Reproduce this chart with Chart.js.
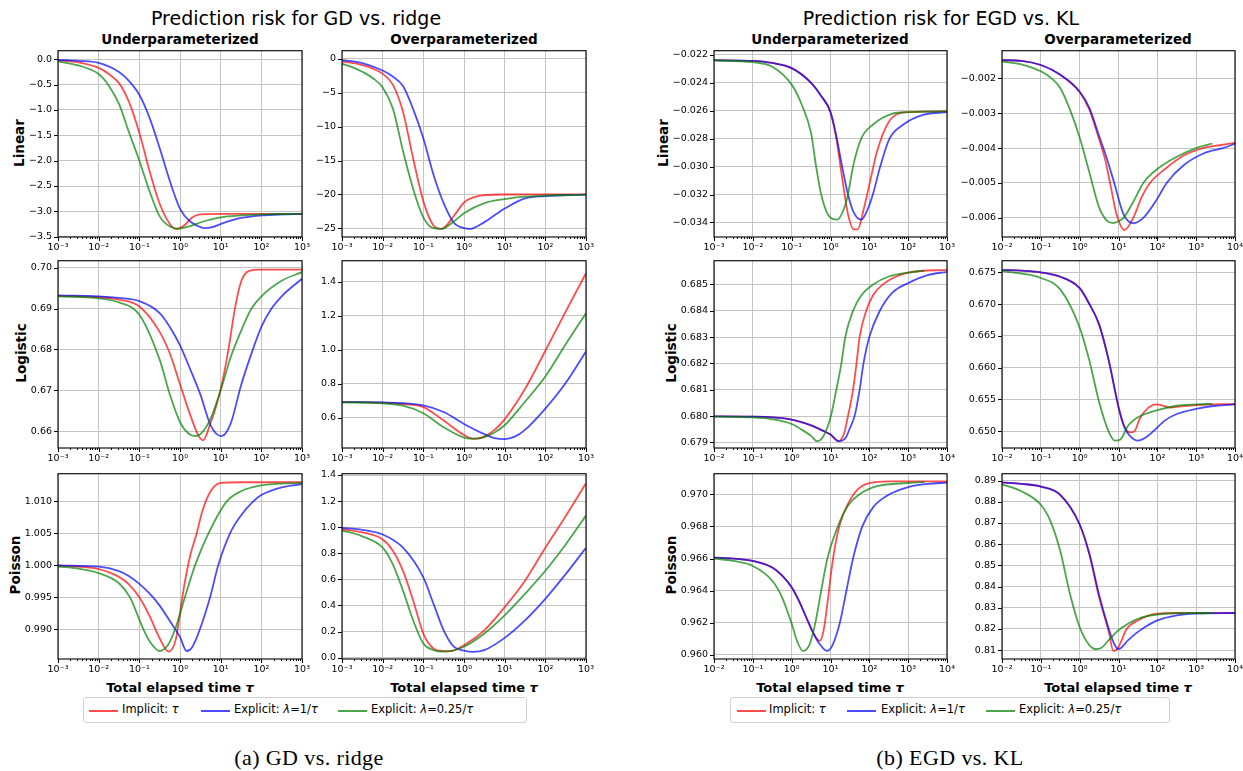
<!DOCTYPE html>
<html>
<head>
<meta charset="utf-8">
<script src="https://cdn.jsdelivr.net/npm/chart.js@4.4.1/dist/chart.umd.min.js"></script>
<style>
  body { margin: 0; width: 1243px; height: 771px; background: #fff; position: relative; overflow: hidden;
         font-family: "DejaVu Sans", sans-serif; color: #000; }
  canvas { position: absolute; }
  .t { position: absolute; white-space: nowrap; transform: translate(-50%, -50%); }
  .main { font-size: 19px; }
  .sub { font-size: 13.5px; font-weight: bold; }
  .row { font-size: 13.5px; font-weight: bold; transform: translate(-50%, -50%) rotate(-90deg); }
  .xt { font-size: 13px; font-weight: bold; }
  .cap { font-family: "Liberation Serif", serif; font-size: 22px; letter-spacing: 0.4px; }
  .legend { position: absolute; height: 26px; border: 1px solid #d0d0d0; border-radius: 3px; box-sizing: border-box; }
  .legend span.l { position: absolute; top: 12px; height: 2px; width: 29px; }
  .legend span.x { position: absolute; top: 4px; font-size: 11.5px; white-space: nowrap; }
</style>
</head>
<body>

<div class="t main" style="left:296px;top:18px">Prediction risk for GD vs. ridge</div>
<div class="t main" style="left:941px;top:18px">Prediction risk for EGD vs. KL</div>

<div class="t sub" style="left:180px;top:39px">Underparameterized</div>
<div class="t sub" style="left:464px;top:39px">Overparameterized</div>
<div class="t sub" style="left:830px;top:39px">Underparameterized</div>
<div class="t sub" style="left:1118px;top:39px">Overparameterized</div>

<div class="t row" style="left:19px;top:143px">Linear</div>
<div class="t row" style="left:21px;top:353px">Logistic</div>
<div class="t row" style="left:15px;top:565px">Poisson</div>
<div class="t row" style="left:663px;top:143px">Linear</div>
<div class="t row" style="left:671px;top:353px">Logistic</div>
<div class="t row" style="left:671px;top:565px">Poisson</div>

<div class="t xt" style="left:180px;top:687px">Total elapsed time <i>τ</i></div>
<div class="t xt" style="left:464px;top:687px">Total elapsed time <i>τ</i></div>
<div class="t xt" style="left:830px;top:687px">Total elapsed time <i>τ</i></div>
<div class="t xt" style="left:1118px;top:687px">Total elapsed time <i>τ</i></div>

<div class="legend" style="left:83px;top:697px;width:444px">
  <span class="l" style="left:5px;background:rgba(255,0,0,0.7)"></span>
  <span class="x" style="left:38px">Implicit: <i>τ</i></span>
  <span class="l" style="left:117px;background:rgba(0,0,255,0.7)"></span>
  <span class="x" style="left:150px">Explicit: <i>λ</i>=1/<i>τ</i></span>
  <span class="l" style="left:254px;background:rgba(0,128,0,0.7)"></span>
  <span class="x" style="left:287px">Explicit: <i>λ</i>=0.25/<i>τ</i></span>
</div>
<div class="legend" style="left:730px;top:697px;width:440px">
  <span class="l" style="left:6px;background:rgba(255,0,0,0.7)"></span>
  <span class="x" style="left:38px">Implicit: <i>τ</i></span>
  <span class="l" style="left:116px;background:rgba(0,0,255,0.7)"></span>
  <span class="x" style="left:150px">Explicit: <i>λ</i>=1/<i>τ</i></span>
  <span class="l" style="left:255px;background:rgba(0,128,0,0.7)"></span>
  <span class="x" style="left:288px">Explicit: <i>λ</i>=0.25/<i>τ</i></span>
</div>

<div class="t cap" style="left:309px;top:758px">(a) GD vs. ridge</div>
<div class="t cap" style="left:950px;top:758px">(b) EGD vs. KL</div>

<script>
// x axes: decades of τ (log10) shown as tick labels
const gdDecades = [-3, -2, -1, 0, 1, 2, 3];
const egdDecades = [-2, -1, 0, 1, 2, 3, 4];

// Every series below is [log10 τ, risk]

// GD vs ridge — Linear, underparameterized
const gdLinUnderImplicit = [[-3,-0.02],[-2.5,-0.06],[-2,-0.17],[-1.75,-0.29],[-1.5,-0.47],[-1.25,-0.85],[-1,-1.45],[-0.75,-2.2],[-0.5,-2.85],[-0.25,-3.25],[-0.1,-3.35],[0.1,-3.28],[0.3,-3.12],[0.5,-3.06],[1,-3.05],[2,-3.05],[3,-3.05]];
const gdLinUnderExplicit = [[-3,-0.01],[-2.5,-0.03],[-2,-0.07],[-1.5,-0.25],[-1.25,-0.43],[-1,-0.7],[-0.75,-1.15],[-0.5,-1.75],[-0.25,-2.4],[0,-2.95],[0.25,-3.2],[0.5,-3.31],[0.6,-3.33],[0.8,-3.31],[1,-3.25],[1.5,-3.13],[2,-3.08],[2.5,-3.06],[3,-3.05]];
const gdLinUnderQuarter = [[-3,-0.04],[-2.5,-0.12],[-2,-0.29],[-1.75,-0.52],[-1.5,-0.88],[-1.25,-1.45],[-1,-2.0],[-0.75,-2.6],[-0.5,-3.1],[-0.25,-3.3],[-0.05,-3.34],[0.25,-3.29],[0.5,-3.22],[1,-3.12],[1.5,-3.08],[2,-3.06],[3,-3.05]];
const gdLinUnderTicks = [-3.5, -3, -2.5, -2, -1.5, -1, -0.5, 0];

// GD vs ridge — Linear, overparameterized
const gdLinOverImplicit = [[-3,-0.35],[-2.5,-0.9],[-2.25,-1.4],[-2,-2.2],[-1.75,-3.8],[-1.5,-7.8],[-1.25,-14.7],[-1,-21],[-0.75,-24.6],[-0.55,-25.1],[-0.25,-23.2],[0,-21.2],[0.25,-20.4],[0.5,-20.1],[1,-20.02],[3,-20.0]];
const gdLinOverExplicit = [[-3,-0.15],[-2.5,-0.6],[-2,-1.7],[-1.75,-2.6],[-1.5,-4.0],[-1.25,-7.4],[-1,-11.7],[-0.75,-17.1],[-0.5,-21.3],[-0.25,-24.2],[0,-25.0],[0.15,-25.1],[0.5,-24.1],[0.75,-23.1],[1,-22.1],[1.5,-20.6],[2,-20.25],[2.5,-20.1],[3,-20.05]];
const gdLinOverQuarter = [[-3,-0.7],[-2.75,-1.2],[-2.5,-1.9],[-2.25,-2.8],[-2,-4.2],[-1.75,-7.3],[-1.5,-13.6],[-1.25,-19.2],[-1,-23.4],[-0.75,-25.0],[-0.55,-25.1],[-0.25,-24.0],[0,-22.8],[0.5,-21.3],[1,-20.7],[1.5,-20.35],[2,-20.2],[3,-20.05]];
const gdLinOverTicks = [-25, -20, -15, -10, -5, 0];

// GD vs ridge — Logistic, underparameterized
const gdLogUnderImplicit = [[-3,0.6931],[-2,0.6928],[-1.5,0.6922],[-1,0.6905],[-0.5,0.6843],[-0.25,0.6790],[0,0.6715],[0.25,0.6640],[0.45,0.6590],[0.57,0.6578],[0.75,0.6620],[0.9,0.6665],[1.05,0.6725],[1.2,0.6805],[1.35,0.6900],[1.5,0.6965],[1.7,0.6992],[2,0.6995],[3,0.6995]];
const gdLogUnderExplicit = [[-3,0.6932],[-2,0.6930],[-1.5,0.6926],[-1,0.6918],[-0.5,0.6889],[-0.25,0.6855],[0,0.6810],[0.25,0.6752],[0.5,0.6690],[0.75,0.6615],[1.02,0.6588],[1.25,0.6620],[1.5,0.6712],[1.75,0.6788],[2,0.6855],[2.25,0.6900],[2.5,0.6930],[3,0.6973]];
const gdLogUnderQuarter = [[-3,0.6930],[-2,0.6925],[-1.5,0.6915],[-1,0.6885],[-0.5,0.6775],[-0.25,0.6690],[0,0.6622],[0.2,0.6595],[0.37,0.6588],[0.55,0.6598],[0.75,0.6630],[1,0.6700],[1.25,0.6782],[1.5,0.6845],[1.75,0.6899],[2,0.6930],[2.5,0.6968],[3,0.6989]];
const gdLogUnderTicks = [0.66, 0.67, 0.68, 0.69, 0.70];

// GD vs ridge — Logistic, overparameterized
const gdLogOverImplicit = [[-3,0.693],[-2,0.690],[-1.5,0.682],[-1,0.664],[-0.5,0.585],[0,0.500],[0.25,0.477],[0.5,0.490],[0.75,0.530],[1,0.592],[1.5,0.770],[2,0.995],[2.5,1.225],[3,1.45]];
const gdLogOverExplicit = [[-3,0.693],[-2,0.691],[-1.5,0.687],[-1,0.674],[-0.5,0.635],[0,0.565],[0.5,0.505],[0.75,0.482],[1,0.476],[1.25,0.490],[1.5,0.530],[2,0.655],[2.5,0.805],[3,0.99]];
const gdLogOverQuarter = [[-3,0.692],[-2,0.686],[-1.5,0.672],[-1,0.628],[-0.5,0.545],[0,0.485],[0.25,0.478],[0.5,0.488],[0.75,0.515],[1,0.557],[1.5,0.695],[2,0.843],[2.5,1.033],[3,1.215]];
const gdLogOverTicks = [0.6, 0.8, 1.0, 1.2, 1.4];

// GD vs ridge — Poisson, underparameterized
const gdPoiUnderImplicit = [[-3,0.99995],[-2.5,0.9998],[-2,0.9994],[-1.5,0.9982],[-1.25,0.9970],[-1,0.9950],[-0.75,0.9921],[-0.5,0.9886],[-0.28,0.9865],[-0.1,0.9885],[0,0.9925],[0.1,0.9967],[0.25,1.0015],[0.41,1.0050],[0.55,1.0085],[0.7,1.0110],[0.85,1.0124],[1,1.0129],[1.5,1.0130],[3,1.0130]];
const gdPoiUnderExplicit = [[-3,1.0000],[-2,0.9998],[-1.5,0.9991],[-1.25,0.9983],[-1,0.9971],[-0.75,0.9956],[-0.5,0.9937],[-0.25,0.9913],[0,0.9888],[0.16,0.9866],[0.3,0.9872],[0.49,0.9900],[0.74,0.9950],[0.94,1.0000],[1.23,1.0050],[1.5,1.0078],[1.8,1.0100],[2,1.0110],[2.5,1.0122],[3,1.0127]];
const gdPoiUnderQuarter = [[-3,0.9998],[-2.5,0.9995],[-2,0.9988],[-1.5,0.9972],[-1.23,0.9950],[-0.9,0.9900],[-0.7,0.9877],[-0.5,0.9866],[-0.3,0.9875],[-0.12,0.9900],[0.12,0.9950],[0.37,1.0000],[0.7,1.0050],[1.15,1.0100],[1.5,1.0116],[2,1.0125],[3,1.0129]];
const gdPoiUnderTicks = [0.990, 0.995, 1.000, 1.005, 1.010];

// GD vs ridge — Poisson, overparameterized
const gdPoiOverImplicit = [[-3,0.985],[-2.5,0.96],[-2,0.906],[-1.75,0.82],[-1.5,0.666],[-1.25,0.438],[-1,0.185],[-0.75,0.071],[-0.5,0.051],[-0.34,0.050],[0,0.096],[0.5,0.21],[1,0.387],[1.5,0.59],[2,0.843],[2.5,1.084],[3,1.337]];
const gdPoiOverExplicit = [[-3,0.995],[-2.5,0.98],[-2,0.944],[-1.5,0.843],[-1,0.615],[-0.75,0.413],[-0.5,0.21],[-0.25,0.084],[0,0.055],[0.23,0.045],[0.5,0.058],[1,0.152],[1.5,0.286],[2,0.451],[2.5,0.64],[3,0.843]];
const gdPoiOverQuarter = [[-3,0.975],[-2.5,0.93],[-2,0.843],[-1.75,0.716],[-1.5,0.514],[-1.25,0.286],[-1,0.109],[-0.75,0.058],[-0.5,0.046],[0,0.084],[0.5,0.185],[1,0.324],[1.5,0.489],[2,0.666],[2.5,0.868],[3,1.089]];
const gdPoiOverTicks = [0.0, 0.2, 0.4, 0.6, 0.8, 1.0, 1.2, 1.4];

// EGD vs KL — Linear, underparameterized
const egdLinUnderImplicit = [[-3,-0.02238],[-2,-0.02243],[-1.5,-0.02258],[-1,-0.02295],[-0.5,-0.0240],[-0.25,-0.0249],[0,-0.0261],[0.15,-0.0280],[0.3,-0.0308],[0.45,-0.0334],[0.6,-0.0345],[0.7,-0.0345],[0.85,-0.0331],[1,-0.0313],[1.2,-0.0289],[1.5,-0.0268],[2,-0.02610],[3,-0.02605]];
const egdLinUnderExplicit = [[-3,-0.02238],[-2,-0.02243],[-1.5,-0.02258],[-1,-0.02295],[-0.5,-0.0240],[-0.25,-0.0249],[0,-0.0261],[0.15,-0.0278],[0.3,-0.0300],[0.45,-0.0320],[0.6,-0.0333],[0.79,-0.0338],[0.95,-0.0331],[1.1,-0.0319],[1.28,-0.0300],[1.52,-0.0280],[1.87,-0.0270],[2.38,-0.0263],[3,-0.0261]];
const egdLinUnderQuarter = [[-3,-0.02240],[-2,-0.02252],[-1.5,-0.02285],[-1,-0.02413],[-0.75,-0.0255],[-0.5,-0.0276],[-0.37,-0.0300],[-0.24,-0.0320],[-0.05,-0.0335],[0.17,-0.0338],[0.35,-0.0330],[0.45,-0.0320],[0.58,-0.0300],[0.79,-0.0280],[1.09,-0.0270],[1.6,-0.0262],[2,-0.02610],[3,-0.02605]];
const egdLinUnderTicks = [-0.034, -0.032, -0.030, -0.028, -0.026, -0.024, -0.022];

// EGD vs KL — Linear, overparameterized
const egdLinOverImplicit = [[-2,-0.00148],[-1.5,-0.00150],[-1,-0.00162],[-0.5,-0.00190],[0,-0.00240],[0.25,-0.0029],[0.5,-0.00375],[0.65,-0.0043],[0.8,-0.0051],[0.95,-0.0059],[1.15,-0.00635],[1.38,-0.0060],[1.6,-0.0054],[1.81,-0.0050],[2.2,-0.0046],[2.7,-0.0042],[3.18,-0.0040],[3.6,-0.00392],[4,-0.00385]];
const egdLinOverExplicit = [[-2,-0.00148],[-1.5,-0.00150],[-1,-0.00162],[-0.5,-0.00190],[0,-0.00238],[0.25,-0.00285],[0.5,-0.00365],[0.7,-0.0043],[0.89,-0.0050],[1.13,-0.0059],[1.38,-0.00615],[1.64,-0.0060],[2,-0.00545],[2.24,-0.0050],[2.67,-0.0045],[3.2,-0.00415],[3.69,-0.0040],[4,-0.00388]];
const egdLinOverQuarter = [[-2,-0.00152],[-1.5,-0.00160],[-1,-0.00180],[-0.75,-0.00198],[-0.5,-0.00228],[-0.25,-0.0029],[0,-0.0037],[0.25,-0.0047],[0.5,-0.0057],[0.7,-0.00608],[0.85,-0.00615],[1.0,-0.00610],[1.13,-0.0060],[1.4,-0.0055],[1.64,-0.0050],[2,-0.0046],[2.5,-0.00425],[3,-0.0040],[3.42,-0.00387]];
const egdLinOverTicks = [-0.006, -0.005, -0.004, -0.003, -0.002];

// EGD vs KL — Logistic, underparameterized
const egdLogUnderImplicit = [[-2,0.67999],[-1,0.67998],[0,0.67987],[0.5,0.67965],[0.8,0.67945],[1,0.67930],[1.21,0.67905],[1.35,0.67935],[1.45,0.68000],[1.58,0.68100],[1.67,0.68200],[1.75,0.68300],[1.92,0.68400],[2.1,0.68460],[2.35,0.68500],[3,0.68545],[4,0.68555]];
const egdLogUnderExplicit = [[-2,0.67999],[-1,0.67998],[0,0.67987],[0.5,0.67965],[0.8,0.67945],[1,0.67930],[1.22,0.67905],[1.4,0.67920],[1.5,0.67955],[1.62,0.68000],[1.75,0.68100],[1.85,0.68200],[2.0,0.68300],[2.27,0.68400],[2.6,0.68470],[3,0.68505],[3.5,0.68535],[4,0.68548]];
const egdLogUnderQuarter = [[-2,0.67998],[-1,0.67995],[-0.5,0.67988],[0,0.67970],[0.3,0.67945],[0.5,0.67925],[0.65,0.67905],[0.8,0.67920],[1.0,0.67995],[1.15,0.68100],[1.28,0.68200],[1.38,0.68300],[1.58,0.68400],[1.8,0.68460],[2.1,0.68500],[2.5,0.68530],[3,0.68545],[3.42,0.68552]];
const egdLogUnderTicks = [0.679, 0.680, 0.681, 0.682, 0.683, 0.684, 0.685];

// EGD vs KL — Logistic, overparameterized
const egdLogOverImplicit = [[-2,0.67535],[-1.5,0.67525],[-1,0.67500],[-0.5,0.67430],[0,0.67250],[0.25,0.67000],[0.5,0.66680],[0.75,0.66110],[1,0.65380],[1.15,0.65080],[1.3,0.64980],[1.4,0.64990],[1.55,0.65200],[1.77,0.65370],[1.98,0.65420],[2.15,0.65400],[2.32,0.65370],[2.6,0.65390],[3,0.65410],[4,0.65430]];
const egdLogOverExplicit = [[-2,0.67535],[-1.5,0.67525],[-1,0.67500],[-0.5,0.67430],[0,0.67250],[0.25,0.67000],[0.5,0.66680],[0.75,0.66110],[1,0.65380],[1.15,0.65060],[1.3,0.64920],[1.5,0.64850],[1.7,0.64900],[1.9,0.65000],[2.2,0.65170],[2.5,0.65270],[3,0.65350],[3.5,0.65400],[4,0.65420]];
const egdLogOverQuarter = [[-2,0.67520],[-1.5,0.67480],[-1,0.67410],[-0.5,0.67230],[0,0.66630],[0.25,0.66110],[0.5,0.65460],[0.75,0.64990],[0.91,0.64850],[1.05,0.64870],[1.25,0.65090],[1.5,0.65220],[2,0.65330],[2.5,0.65400],[3,0.65420],[3.42,0.65430]];
const egdLogOverTicks = [0.650, 0.655, 0.660, 0.665, 0.670, 0.675];

// EGD vs KL — Poisson, underparameterized
const egdPoiUnderImplicit = [[-2,0.96606],[-1.5,0.96600],[-1,0.96585],[-0.5,0.96544],[-0.25,0.96495],[0,0.96421],[0.2,0.96330],[0.4,0.96220],[0.55,0.96140],[0.65,0.96100],[0.72,0.96088],[0.82,0.96150],[0.92,0.96320],[1.02,0.96520],[1.12,0.96680],[1.25,0.96820],[1.45,0.96940],[1.7,0.97030],[2,0.97070],[2.5,0.97080],[4,0.97080]];
const egdPoiUnderExplicit = [[-2,0.96606],[-1.5,0.96600],[-1,0.96585],[-0.5,0.96544],[-0.25,0.96495],[0,0.96421],[0.2,0.96330],[0.4,0.96220],[0.55,0.96140],[0.7,0.96075],[0.91,0.96025],[1.05,0.96060],[1.24,0.96200],[1.41,0.96400],[1.58,0.96600],[1.82,0.96800],[2.1,0.96920],[2.52,0.97000],[3,0.97045],[3.5,0.97065],[4,0.97072]];
const egdPoiUnderQuarter = [[-2,0.96600],[-1.5,0.96585],[-1,0.96554],[-0.5,0.96462],[-0.25,0.96360],[0,0.96195],[0.15,0.96080],[0.29,0.96025],[0.45,0.96060],[0.61,0.96200],[0.76,0.96400],[0.92,0.96600],[1.19,0.96800],[1.45,0.96930],[1.75,0.97000],[2.2,0.97050],[3,0.97070],[3.42,0.97075]];
const egdPoiUnderTicks = [0.960, 0.962, 0.964, 0.966, 0.968, 0.970];

// EGD vs KL — Poisson, overparameterized
const egdPoiOverImplicit = [[-2,0.8892],[-1.5,0.8885],[-1,0.8872],[-0.5,0.8833],[0,0.8693],[0.25,0.8552],[0.5,0.8350],[0.75,0.8186],[0.87,0.8095],[1,0.8115],[1.21,0.8200],[1.5,0.8240],[2,0.8272],[2.5,0.8275],[4,0.8275]];
const egdPoiOverExplicit = [[-2,0.8892],[-1.5,0.8885],[-1,0.8872],[-0.5,0.8833],[0,0.8693],[0.25,0.8555],[0.5,0.8360],[0.75,0.8200],[0.9,0.8125],[1,0.8105],[1.25,0.8147],[1.5,0.8186],[2,0.8240],[2.5,0.8264],[3,0.8272],[4,0.8275]];
const egdPoiOverQuarter = [[-2,0.8883],[-1.5,0.8850],[-1,0.8786],[-0.75,0.8708],[-0.5,0.8568],[-0.25,0.8365],[0,0.8209],[0.25,0.8123],[0.4,0.8105],[0.55,0.8110],[0.75,0.8147],[1,0.8194],[1.5,0.8248],[2,0.8268],[3,0.8275],[3.42,0.8275]];
const egdPoiOverTicks = [0.81, 0.82, 0.83, 0.84, 0.85, 0.86, 0.87, 0.88, 0.89];

// ---- layout of the plot areas on the page ----
const cols = [{l: 58, r: 302}, {l: 342, r: 586}, {l: 714, r: 947}, {l: 1002, r: 1235}];
const rows = [{t: 49, b: 237}, {t: 259, b: 448}, {t: 472, b: 659}];
const lineColors = ['rgba(255,0,0,0.7)', 'rgba(0,0,255,0.7)', 'rgba(0,128,0,0.7)'];
const gridColor = '#c4c4c4';
const tickFont = {family: 'DejaVu Sans', size: 9.5};
const Y_AXIS_W = 50, X_AXIS_H = 20, PAD_TOP = 10, PAD_RIGHT = 14;

const supMap = {'-': '⁻', '0': '⁰', '1': '¹', '2': '²', '3': '³', '4': '⁴'};
const sup = n => String(n).split('').map(c => supMap[c]).join('');

function logTicks(decades) {
  const ticks = [];
  for (let i = 0; i < decades.length - 1; i++) {
    for (let k = 1; k <= 9; k++) {
      ticks.push({value: k * Math.pow(10, decades[i]), major: k === 1, exp: decades[i]});
    }
  }
  const last = decades[decades.length - 1];
  ticks.push({value: Math.pow(10, last), major: true, exp: last});
  return ticks;
}

function fmt(v, d) {
  return (v < 0 ? '−' : '') + Math.abs(v).toFixed(d);
}

// spines and outward tick marks like matplotlib
const framePlugin = {
  id: 'frame',
  afterDraw(chart) {
    const {ctx, chartArea: a} = chart;
    const x = chart.scales.x, y = chart.scales.y;
    ctx.save();
    ctx.strokeStyle = '#000';
    ctx.lineWidth = 1;
    ctx.beginPath();
    x.ticks.forEach(t => {
      const px = Math.round(x.getPixelForValue(t.value)) + 0.5;
      ctx.moveTo(px, a.bottom);
      ctx.lineTo(px, a.bottom + (t.major ? 4 : 2));
    });
    y.ticks.forEach(t => {
      const py = Math.round(y.getPixelForValue(t.value)) + 0.5;
      ctx.moveTo(a.left - 4, py);
      ctx.lineTo(a.left, py);
    });
    ctx.stroke();
    ctx.strokeStyle = '#111';
    ctx.lineWidth = 1.2;
    ctx.strokeRect(a.left, a.top, a.right - a.left, a.bottom - a.top);
    ctx.restore();
  }
};

function panel(col, row, decades, yMin, yMax, yTicks, yDec, series) {
  const c = cols[col], r = rows[row];
  const cv = document.createElement('canvas');
  cv.width = Y_AXIS_W + (c.r - c.l) + PAD_RIGHT;
  cv.height = PAD_TOP + (r.b - r.t) + X_AXIS_H;
  cv.style.left = (c.l - Y_AXIS_W) + 'px';
  cv.style.top = (r.t - PAD_TOP) + 'px';
  document.body.appendChild(cv);

  new Chart(cv, {
    type: 'line',
    data: {
      datasets: series.map((s, i) => ({
        data: s.map(p => ({x: Math.pow(10, p[0]), y: p[1]})),
        borderColor: lineColors[i],
        borderWidth: 1.8,
        pointRadius: 0,
        fill: false,
        cubicInterpolationMode: 'monotone',
        order: 3 - i
      }))
    },
    options: {
      responsive: false,
      animation: false,
      events: [],
      layout: {padding: {top: PAD_TOP, right: PAD_RIGHT, left: 0, bottom: 0}},
      plugins: {legend: {display: false}, tooltip: {enabled: false}},
      scales: {
        x: {
          type: 'logarithmic',
          min: Math.pow(10, decades[0]),
          max: Math.pow(10, decades[decades.length - 1]),
          afterBuildTicks: s => { s.ticks = logTicks(decades); },
          afterFit: s => { s.height = X_AXIS_H; },
          border: {display: false},
          grid: {
            drawTicks: false,
            lineWidth: 1,
            color: ctx => (ctx.tick && ctx.tick.major) ? gridColor : 'rgba(0,0,0,0)'
          },
          ticks: {
            autoSkip: false, maxRotation: 0, minRotation: 0, padding: 5,
            color: '#000', font: tickFont,
            callback: (v, i, ticks) => ticks[i].major ? '10' + sup(ticks[i].exp) : ''
          }
        },
        y: {
          min: yMin,
          max: yMax,
          afterBuildTicks: s => { s.ticks = yTicks.map(v => ({value: v})); },
          afterFit: s => { s.width = Y_AXIS_W; },
          border: {display: false},
          grid: {drawTicks: false, lineWidth: 1, color: gridColor},
          ticks: {
            autoSkip: false, padding: 6, color: '#000', font: tickFont,
            callback: v => fmt(v, yDec)
          }
        }
      }
    },
    plugins: [framePlugin]
  });
}

panel(0, 0, gdDecades, -3.506, 0.17, gdLinUnderTicks, 1, [gdLinUnderImplicit, gdLinUnderExplicit, gdLinUnderQuarter]);
panel(1, 0, gdDecades, -26.3, 1.22, gdLinOverTicks, 0, [gdLinOverImplicit, gdLinOverExplicit, gdLinOverQuarter]);
panel(0, 1, gdDecades, 0.6559, 0.7017, gdLogUnderTicks, 2, [gdLogUnderImplicit, gdLogUnderExplicit, gdLogUnderQuarter]);
panel(1, 1, gdDecades, 0.4235, 1.524, gdLogOverTicks, 1, [gdLogOverImplicit, gdLogOverExplicit, gdLogOverQuarter]);
panel(0, 2, gdDecades, 0.98535, 1.01434, gdPoiUnderTicks, 3, [gdPoiUnderImplicit, gdPoiUnderExplicit, gdPoiUnderQuarter]);
panel(1, 2, gdDecades, -0.01, 1.41, gdPoiOverTicks, 1, [gdPoiOverImplicit, gdPoiOverExplicit, gdPoiOverQuarter]);

panel(2, 0, gdDecades, -0.03504, -0.02170, egdLinUnderTicks, 3, [egdLinUnderImplicit, egdLinUnderExplicit, egdLinUnderQuarter]);
panel(3, 0, egdDecades, -0.00655, -0.00121, egdLinOverTicks, 3, [egdLinOverImplicit, egdLinOverExplicit, egdLinOverQuarter]);
panel(2, 1, egdDecades, 0.67879, 0.68590, egdLogUnderTicks, 3, [egdLogUnderImplicit, egdLogUnderExplicit, egdLogUnderQuarter]);
panel(3, 1, egdDecades, 0.64735, 0.67682, egdLogOverTicks, 3, [egdLogOverImplicit, egdLogOverExplicit, egdLogOverQuarter]);
panel(2, 2, egdDecades, 0.95975, 0.97128, egdPoiUnderTicks, 3, [egdPoiUnderImplicit, egdPoiUnderExplicit, egdPoiUnderQuarter]);
panel(3, 2, egdDecades, 0.80579, 0.89328, egdPoiOverTicks, 2, [egdPoiOverImplicit, egdPoiOverExplicit, egdPoiOverQuarter]);
</script>
</body>
</html>
